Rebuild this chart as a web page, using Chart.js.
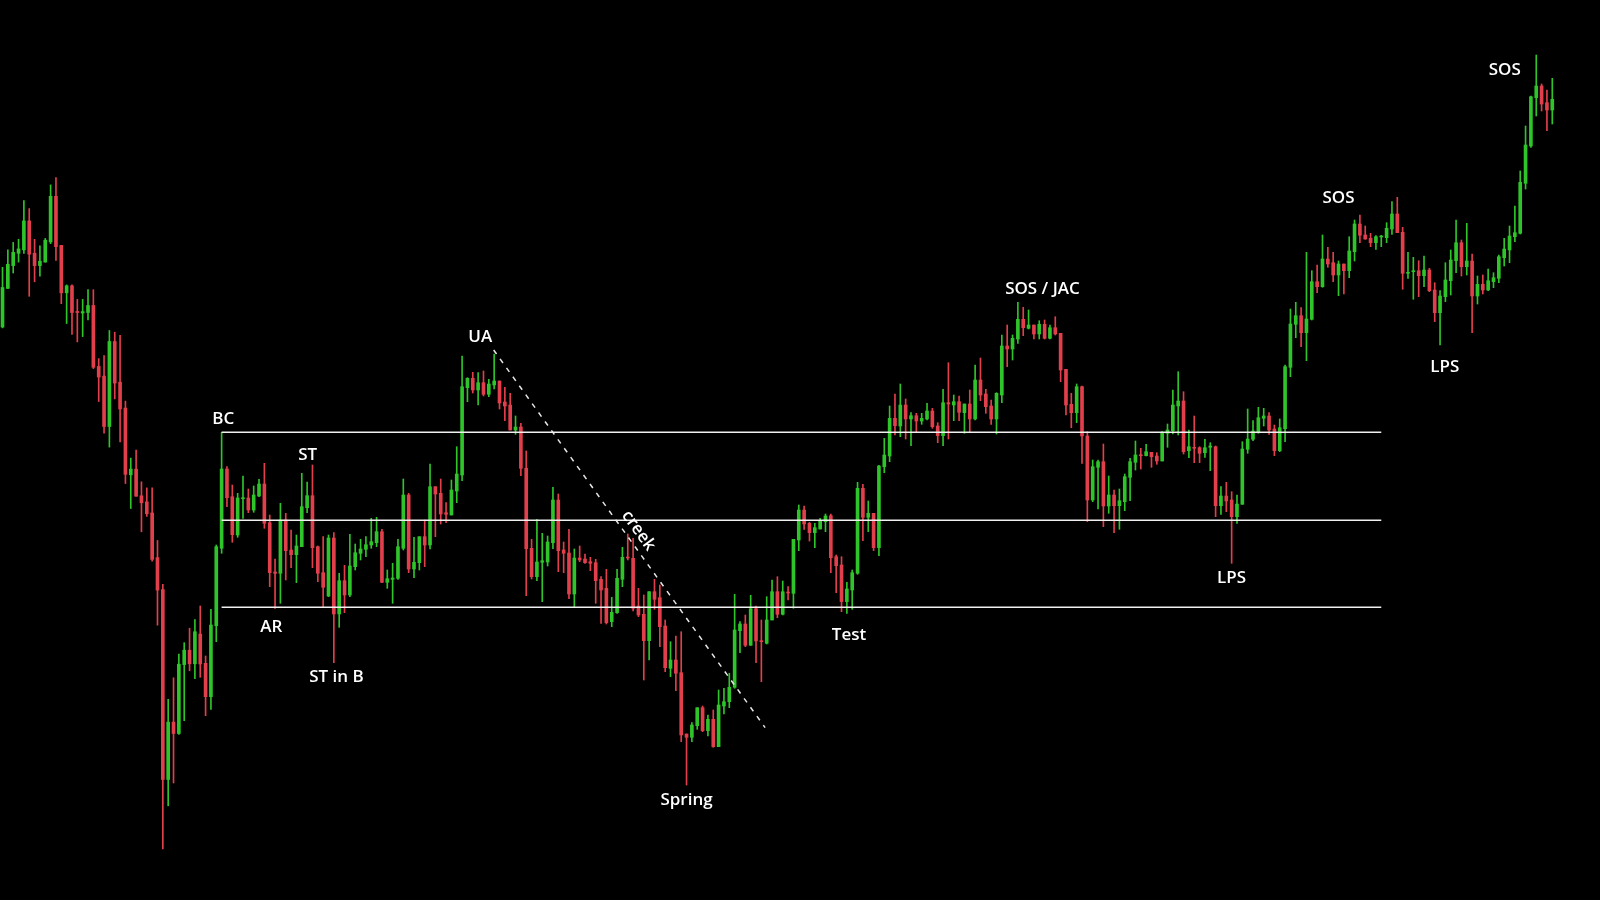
<!DOCTYPE html>
<html><head><meta charset="utf-8">
<script src="https://cdn.jsdelivr.net/npm/chart.js@4.4.1/dist/chart.umd.min.js"></script>
<style>html,body{margin:0;padding:0;background:#000;overflow:hidden}canvas{display:block}</style>
</head><body>
<canvas id="c" width="1600" height="900"></canvas>
<script>
const openPrices = [
57.30,61.16,63.44,64.67,65.02,67.91,64.67,63.44,63.79,65.81,
70.37,65.46,60.72,61.42,58.84,58.70,58.75,59.45,53.36,52.39,
47.35,55.85,51.78,49.19,42.52,43.09,40.42,39.81,38.71,34.24,
31.04,12.05,17.79,16.65,23.54,24.98,23.62,26.6,23.67,20.33,
27.43,35.17,43.10,40.33,36.50,40.13,40.20,39.00,40.40,41.60,
37.73,32.80,32.67,38.00,35.00,34.53,35.33,39.23,40.43,35.33,
32.73,30.40,36.20,28.60,31.93,30.50,33.33,34.67,35.07,35.50,
35.73,36.83,31.77,32.07,32.17,35.17,40.50,33.10,33.73,36.33,
35.50,41.33,40.67,38.73,38.50,40.90,42.50,51.23,52.17,51.00,
51.73,50.57,51.50,51.90,49.80,49.50,47.00,47.30,43.17,35.17,
32.33,33.77,33.80,35.73,40.00,35.00,34.70,30.60,34.20,34.10,
33.83,33.73,32.07,31.17,27.83,28.73,32.07,34.27,34.17,29.40,
28.57,25.93,30.83,30.23,27.40,23.17,24.00,22.73,16.60,16.27,
17.43,19.23,16.93,18.07,15.33,19.40,19.83,21.27,26.93,27.60,
25.47,29.13,25.90,25.67,28.00,30.83,28.57,30.77,30.67,36.00,
39.00,37.67,36.73,37.10,37.83,38.43,34.33,33.50,29.83,31.00,
32.67,41.17,38.27,38.67,35.23,43.33,44.40,48.17,47.40,49.50,
48.10,48.43,47.90,48.10,48.90,47.40,46.43,49.73,49.50,49.83,
48.73,49.60,48.10,52.00,50.60,49.40,48.10,50.50,55.40,55.10,
56.10,58.07,57.17,57.50,56.60,57.57,56.17,57.23,56.67,53.07,
49.57,48.73,51.33,46.40,40.00,43.27,43.83,39.40,40.50,39.43,
39.83,42.27,43.77,44.50,44.43,44.77,44.40,43.90,46.67,46.93,
49.40,49.90,44.93,45.27,45.23,44.73,45.27,45.33,39.43,40.40,
40.00,38.33,39.57,45.07,46.07,46.83,48.17,48.40,47.10,44.93,
47.13,53.27,57.57,58.43,56.73,58.07,61.83,61.33,64.10,63.73,
62.50,63.60,62.93,64.83,67.60,66.50,66.17,65.73,66.30,66.23,
67.10,68.60,66.77,62.67,62.83,62.93,62.43,63.00,61.00,58.73,
60.33,61.93,63.93,65.73,63.33,63.90,60.40,61.57,61.00,61.83,
62.17,64.23,65.00,66.33,66.67,71.67,75.40,80.23,81.40,79.73,
79.00];
const highPrices = [
63.27,65.02,65.76,66.07,69.93,69.14,66.07,65.41,66.16,71.51,
72.25,65.46,61.51,61.51,60.06,60.06,61.03,61.03,54.14,54.45,
56.95,56.78,56.47,49.89,44.19,44.98,41.82,41.21,41.21,35.95,
31.56,20.07,22.22,24.59,25.73,27.18,28.05,29.4,24.4,29.07,
35.50,46.77,43.33,41.50,40.67,42.40,41.10,41.40,42.07,43.67,
38.50,34.10,39.67,38.67,37.00,36.50,42.67,41.80,43.50,35.40,
36.33,36.50,36.73,32.67,33.47,36.57,35.60,36.07,36.33,38.17,
38.27,37.07,33.00,33.67,36.07,42.10,40.67,36.27,36.33,38.00,
43.60,41.33,42.10,39.73,42.00,45.33,54.40,52.23,52.77,52.73,
52.90,52.07,54.60,51.90,51.27,50.67,48.40,47.67,44.90,36.07,
38.07,36.67,36.40,41.27,40.60,35.80,37.07,35.10,35.40,34.60,
34.27,34.07,32.33,33.07,30.27,33.07,35.27,36.60,36.17,31.17,
30.50,30.83,32.07,31.50,28.00,25.83,26.40,26.83,16.60,17.73,
19.23,19.40,18.50,19.00,21.00,21.17,22.67,30.57,27.83,28.50,
30.47,29.40,28.00,30.33,32.00,32.33,31.90,31.33,36.07,39.50,
39.40,37.77,37.67,38.17,38.60,38.60,34.50,34.33,31.77,33.00,
41.77,41.57,39.90,38.67,43.47,46.17,49.40,50.60,51.60,50.10,
48.73,48.67,48.67,49.67,49.17,47.73,51.07,53.73,50.50,50.40,
49.60,51.00,53.50,54.20,51.07,50.00,50.73,56.50,57.50,56.50,
59.77,59.27,59.00,57.50,57.93,58.00,57.50,58.33,56.67,53.07,
50.67,51.60,51.40,46.83,44.00,44.00,45.60,42.40,41.00,41.10,
42.60,44.17,45.90,45.17,45.57,44.77,44.73,46.83,47.60,51.00,
52.83,50.83,47.00,48.40,45.33,46.07,45.73,45.40,41.33,41.77,
40.83,40.50,45.83,49.10,47.93,49.27,49.17,48.73,47.50,48.10,
53.50,59.10,59.77,59.23,64.77,62.93,63.50,66.50,65.27,64.77,
63.90,63.60,66.33,68.00,68.50,67.40,66.67,66.43,66.47,67.73,
69.83,70.27,67.27,64.77,64.27,63.93,64.40,63.17,61.73,60.93,
63.73,65.00,68.00,66.00,67.67,64.60,62.40,62.50,63.10,62.73,
64.50,66.17,67.40,69.40,72.90,77.40,80.40,84.50,81.60,81.00,
82.17];
const lowPrices = [
57.21,61.16,62.70,63.79,64.67,60.37,61.82,62.39,63.79,65.63,
63.97,59.63,57.65,56.56,55.81,56.34,58.00,53.14,49.85,46.69,
45.29,50.11,45.81,41.65,39.15,40.38,36.82,38.36,33.89,27.48,
5.12,9.42,11.70,16.56,17.93,22.92,22.13,22.27,18.43,19.07,
25.83,34.67,39.33,35.77,36.27,38.17,38.73,38.77,40.33,37.17,
31.33,29.17,29.67,32.00,33.23,31.73,35.33,38.73,33.23,31.83,
29.33,30.33,23.73,27.27,28.73,30.33,33.00,34.00,34.33,35.17,
35.33,31.73,31.17,29.67,32.07,35.00,32.73,32.23,33.00,33.33,
35.10,36.33,37.60,37.73,38.50,39.73,41.93,49.83,50.70,49.50,
50.40,50.33,51.10,49.10,47.93,47.00,46.57,42.43,30.43,32.10,
31.93,29.83,33.40,35.13,32.83,32.73,30.13,29.33,33.83,33.67,
32.93,29.67,27.67,27.60,27.33,28.67,31.33,34.00,28.90,28.33,
22.00,24.00,29.07,25.33,22.83,22.33,20.93,15.83,11.50,15.83,
17.07,16.83,16.40,15.27,15.33,18.60,19.23,21.17,24.73,25.33,
25.47,23.73,21.83,25.60,28.00,28.23,28.50,30.00,29.17,34.93,
37.07,35.90,35.23,37.10,36.83,32.73,30.73,28.83,28.67,29.07,
32.57,35.93,36.83,34.93,34.43,42.73,43.83,46.50,46.33,46.10,
45.43,46.83,47.57,48.00,47.17,45.73,45.43,46.10,47.93,47.93,
46.67,46.77,48.00,49.93,48.67,47.57,46.60,49.73,53.33,54.00,
55.67,56.43,57.10,56.10,56.10,56.10,56.10,56.50,51.83,48.50,
47.23,47.73,43.67,37.83,39.83,39.10,37.33,38.67,36.73,37.07,
38.93,39.93,43.00,43.10,44.40,43.27,43.57,43.90,45.27,46.60,
46.50,44.60,44.23,43.73,43.73,44.27,42.93,38.33,38.57,38.83,
33.67,37.67,39.57,44.67,45.93,46.67,47.40,46.57,44.43,44.83,
45.83,52.33,56.23,55.33,53.93,58.00,60.73,61.27,63.27,61.83,
60.43,60.60,62.23,63.90,65.73,66.07,65.33,65.07,65.33,65.73,
66.57,66.73,61.07,62.17,60.07,60.33,61.33,60.83,57.83,55.50,
59.83,60.50,62.73,62.40,62.50,56.73,59.60,60.60,60.93,61.23,
61.73,63.40,63.73,65.83,66.60,71.10,75.27,78.40,78.90,76.93,
77.60];
const closePrices = [
61.25,63.57,64.76,65.11,67.91,64.58,63.44,63.88,65.98,70.37,
65.33,60.72,61.42,58.75,58.75,58.84,59.45,53.27,52.30,47.35,
55.85,51.69,49.10,42.57,43.09,40.38,39.72,38.62,34.06,30.99,
12.05,17.79,16.65,23.58,24.98,23.62,26.83,23.6,20.33,27.5,
35.33,43.10,40.23,36.53,40.20,40.20,39.00,40.50,41.60,37.67,
32.73,32.67,38.00,34.93,34.53,35.40,39.33,40.43,35.23,32.67,
31.27,36.20,28.60,31.93,30.50,33.40,34.73,35.10,35.53,35.83,
36.83,31.77,32.13,32.20,35.33,40.50,33.10,33.77,36.33,35.50,
41.33,40.60,38.60,38.57,41.00,42.60,51.33,52.17,51.00,51.73,
50.57,51.60,51.90,49.70,49.40,47.00,47.30,43.17,35.13,32.33,
33.80,33.93,35.80,40.00,34.93,34.67,30.60,34.20,34.00,33.73,
33.67,31.93,31.00,27.73,28.77,32.17,34.27,34.20,29.17,28.50,
25.93,30.83,30.07,27.33,23.23,24.00,22.67,16.50,16.27,17.50,
19.23,16.93,18.07,15.33,19.50,19.83,21.27,27.00,27.60,25.47,
29.13,25.90,25.83,28.00,30.83,28.57,30.83,30.70,36.07,39.00,
37.60,36.73,37.23,37.93,38.40,34.23,33.43,29.83,31.10,32.73,
41.17,38.27,38.67,35.23,43.40,44.50,48.17,47.43,49.50,48.10,
48.43,47.90,48.17,48.90,47.33,46.43,49.73,49.60,49.83,48.77,
49.60,48.10,52.00,50.50,49.33,48.10,50.67,55.40,55.10,56.17,
58.07,57.23,57.50,56.60,57.57,56.17,57.23,56.60,53.00,49.50,
48.73,51.33,46.40,40.00,43.33,43.83,39.40,40.50,39.43,39.93,
42.33,43.83,44.50,44.43,44.83,44.33,43.90,46.77,47.00,49.50,
49.90,44.83,45.33,45.17,44.67,45.23,45.40,39.43,40.40,39.90,
38.33,39.60,45.10,46.10,46.90,48.23,48.40,47.00,44.93,47.23,
53.33,57.60,58.43,56.73,58.10,61.83,61.33,64.10,63.60,62.50,
63.60,62.93,64.90,67.60,66.47,66.10,65.73,66.33,66.37,67.17,
68.60,66.73,62.67,62.77,62.93,62.43,63.00,60.93,58.73,60.40,
62.00,64.00,65.73,63.33,63.90,60.40,61.57,61.00,61.93,62.23,
64.33,65.10,66.40,66.73,71.77,75.50,80.33,81.40,79.60,79.00,
80.07];

// Trading range levels (support / mid / resistance) and their span in bars
const rangeLevels = [46.77, 37.97, 29.27];
const rangeSpan = [41, 258];

// "creek" trend line: bar positions and prices of its two ends
const creekIndex = [91.9, 142.7];
const creekPrice = [55.0, 17.24];

// Wyckoff event labels: text, bar position, price level
const labelTexts = ['BC', 'ST', 'AR', 'ST in B', 'UA', 'Spring', 'Test', 'SOS / JAC', 'LPS', 'SOS', 'LPS', 'SOS'];
const labelIndex = [41.3, 57.1, 50.3, 62.5, 89.4, 128.0, 158.4, 194.6, 230.0, 250.0, 269.9, 281.1];
const labelPrice = [48.26, 44.7, 27.45, 22.45, 56.53, 10.2, 26.73, 61.33, 32.35, 70.41, 53.47, 83.16];
const creekLabelText = 'creek';
const creekLabelIndex = 119.3;
const creekLabelPrice = 37.04;

const UP = '#2ec42a';
const DOWN = '#e13f4b';
const LABEL_FONT = '600 17px "Open Sans", "Noto Sans", sans-serif';
const LABEL_DY = 2;

const barIdx = openPrices.map((_, i) => i);
const candleColors = barIdx.map(i => closePrices[i] >= openPrices[i] ? UP : DOWN);

const datasets = [];
rangeLevels.forEach(lv => datasets.push({
  type: 'line',
  data: rangeSpan.map(x => ({x: x, y: lv})),
  borderColor: '#f0f0f0', borderWidth: 1.5, pointRadius: 0, tension: 0, order: 0
}));
datasets.push({
  type: 'line',
  data: creekIndex.map((x, k) => ({x: x, y: creekPrice[k]})),
  borderColor: '#e6e6e6', borderWidth: 1.5, borderDash: [5, 6], pointRadius: 0, tension: 0, order: 0
});
datasets.push({
  type: 'bar',
  data: barIdx.map(i => ({x: i, y: [openPrices[i], closePrices[i]]})),
  backgroundColor: candleColors, borderWidth: 0, barThickness: 3, minBarLength: 1, grouped: false, order: 1
});
datasets.push({
  type: 'bar',
  data: barIdx.map(i => ({x: i, y: [lowPrices[i], highPrices[i]]})),
  backgroundColor: candleColors, borderWidth: 0, barThickness: 1, grouped: false, order: 2
});

const bgPlugin = {
  id: 'bg',
  beforeDraw(chart) {
    const c = chart.ctx;
    c.save(); c.fillStyle = '#000'; c.fillRect(0, 0, chart.width, chart.height); c.restore();
  }
};

const labelPlugin = {
  id: 'wyckoffLabels',
  afterDatasetsDraw(chart) {
    const {ctx, scales: {x, y}} = chart;
    ctx.save();
    ctx.fillStyle = '#ffffff';
    ctx.font = LABEL_FONT;
    ctx.textAlign = 'center';
    ctx.textBaseline = 'middle';
    labelTexts.forEach((t, k) => {
      ctx.fillText(t, x.getPixelForValue(labelIndex[k]), y.getPixelForValue(labelPrice[k]) + LABEL_DY);
    });
    const x1 = x.getPixelForValue(creekIndex[0]), y1 = y.getPixelForValue(creekPrice[0]);
    const x2 = x.getPixelForValue(creekIndex[1]), y2 = y.getPixelForValue(creekPrice[1]);
    const ang = Math.atan2(y2 - y1, x2 - x1);
    ctx.translate(x.getPixelForValue(creekLabelIndex), y.getPixelForValue(creekLabelPrice));
    ctx.rotate(ang);
    ctx.fillText(creekLabelText, 0, LABEL_DY);
    ctx.restore();
  }
};

new Chart(document.getElementById('c'), {
  type: 'bar',
  data: {datasets: datasets},
  options: {
    responsive: false,
    devicePixelRatio: 1,
    animation: false,
    layout: {padding: 0},
    plugins: {legend: {display: false}, tooltip: {enabled: false}},
    scales: {
      x: {type: 'linear', min: -0.47, max: 298.93, offset: false, display: false, grid: {display: false}},
      y: {type: 'linear', min: 0, max: 90, display: false, grid: {display: false}}
    }
  },
  plugins: [bgPlugin, labelPlugin]
});
</script>
</body></html>
